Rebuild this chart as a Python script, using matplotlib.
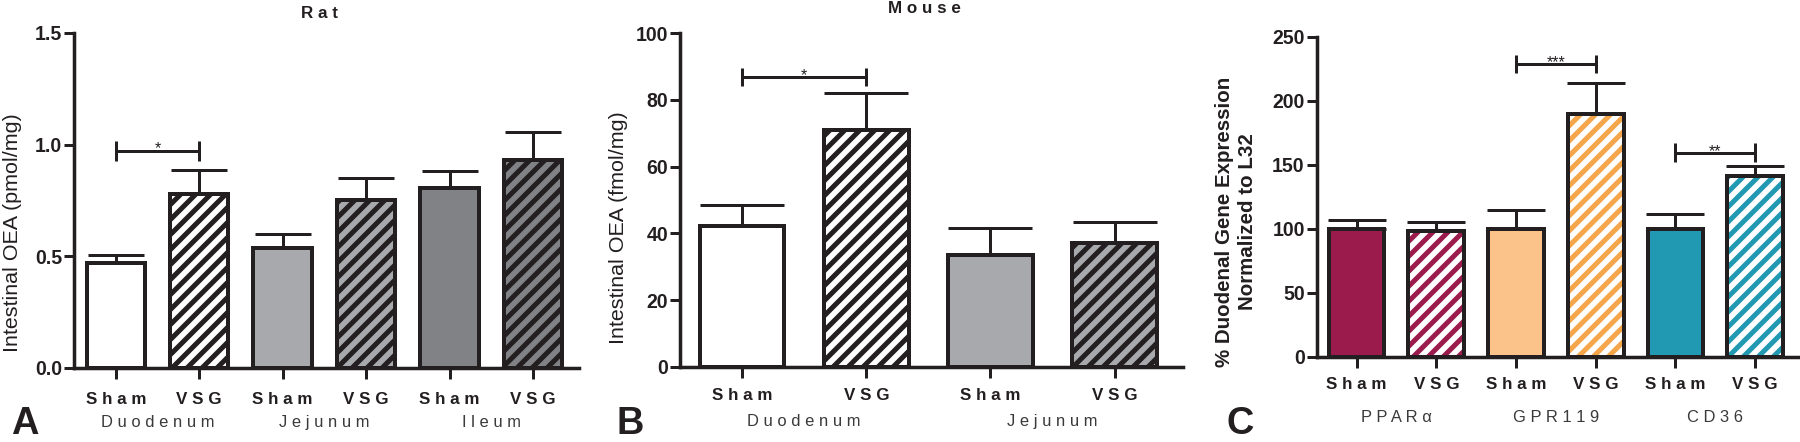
import numpy as np
import matplotlib
matplotlib.use('Agg')
import matplotlib.pyplot as plt
from matplotlib.transforms import offset_copy

DPI = 90
W, H = 1800, 442


def pt(px):
    # pixels -> points at the output dpi
    return px * 72 / DPI


plt.rcParams['font.family'] = ['Liberation Sans', 'DejaVu Sans']
plt.rcParams['hatch.linewidth'] = pt(5)

INK = '#231F20'
GREY_TXT = '#3a3a3a'

# ---- data ----
conds = ['Sham', 'VSG']

rat_groups = ['Duodenum', 'Jejunum', 'Ileum']
rat_mean = [0.47, 0.78, 0.535, 0.753, 0.806, 0.932]
rat_sem = [0.036, 0.108, 0.063, 0.095, 0.075, 0.125]
rat_face = ['white', 'white', '#A7A9AC', '#A7A9AC', '#808285', '#808285']

mouse_groups = ['Duodenum', 'Jejunum']
mouse_mean = [42.2, 71.0, 33.5, 37.0]
mouse_sem = [6.3, 11.0, 8.2, 6.5]
mouse_face = ['white', 'white', '#A7A9AC', '#A7A9AC']

gene_groups = ['PPARα', 'GPR119', 'CD36']
gene_mean = [100, 98, 100, 190, 100, 141]
gene_sem = [7, 7, 14.8, 23.6, 11.4, 8]
gene_face = ['#9C1B4D', 'white', '#FBC389', 'white', '#2299B2', 'white']
gene_hatch = [None, '#9C1B4D', None, '#F5A54A', None, '#2299B2']

# significance: (left bar, right bar, height, arm, label)
rat_sig = [(0, 1, 0.973, 0.045, '*')]
mouse_sig = [(0, 1, 86.8, 2.75, '*')]
gene_sig = [(2, 3, 228.7, 7.0, '***'), (4, 5, 159.5, 7.5, '**')]


def spaced(s):
    return ' '.join(s)


def rect_px(l, r, top, bottom):
    return [l / W, 1 - bottom / H, (r - l) / W, (bottom - top) / H]


fig = plt.figure(figsize=(W / DPI, H / DPI), dpi=DPI)


def panel(rect, means, sems, faces, hatchcols, groups, ymax, yticks, yfmt,
          width, cap_px, cond_base, group_base, sigs):
    ax = fig.add_axes(rect)
    n = len(means)
    x = np.arange(n)
    for i in range(n):
        if hatchcols[i] is not None:
            ax.bar(x[i], means[i], width, color=faces[i], edgecolor=hatchcols[i],
                   hatch='//', linewidth=0, zorder=2)
            ax.bar(x[i], means[i], width, facecolor='none', edgecolor=INK,
                   linewidth=pt(4), zorder=3)
        else:
            ax.bar(x[i], means[i], width, color=faces[i], edgecolor=INK,
                   linewidth=pt(4), zorder=3)
    ax.errorbar(x, means, yerr=[np.zeros(n), sems], fmt='none', ecolor=INK,
                elinewidth=pt(3), capsize=pt(cap_px), capthick=pt(3), zorder=1)

    for a, b, h, arm, lab in sigs:
        ax.plot([a, b], [h, h], color=INK, lw=pt(3), solid_capstyle='butt')
        ax.plot([a, a], [h - arm, h + arm], color=INK, lw=pt(3), solid_capstyle='butt')
        ax.plot([b, b], [h - arm, h + arm], color=INK, lw=pt(3), solid_capstyle='butt')
        ax.annotate(lab, xy=((a + b) / 2, h), xytext=(0, pt(1.5)),
                    textcoords='offset points', ha='center', va='center',
                    fontsize=pt(16), color=INK)

    ax.set_xlim(-0.5, n - 0.45)
    ax.set_ylim(0, ymax)
    for s in ['top', 'right']:
        ax.spines[s].set_visible(False)
    for s in ['left', 'bottom']:
        ax.spines[s].set_linewidth(pt(3.5))
        ax.spines[s].set_color(INK)
    ax.set_xticks(x, [''] * n)
    ax.tick_params(axis='x', length=pt(11), width=pt(3), color=INK)
    ax.set_yticks(yticks, [yfmt.format(v) for v in yticks])
    ax.tick_params(axis='y', length=pt(10), width=pt(3), color=INK, pad=pt(2),
                   labelsize=pt(19.5), labelcolor=INK)
    for t in ax.get_yticklabels():
        t.set_fontweight('bold')

    tr_c = offset_copy(ax.get_xaxis_transform(), fig=fig, y=-cond_base, units='dots')
    for i in range(n):
        ax.text(x[i], 0, spaced(conds[i % 2]), transform=tr_c, ha='center',
                va='baseline', fontsize=pt(17), fontweight='bold', color=INK)
    tr_g = offset_copy(ax.get_xaxis_transform(), fig=fig, y=-group_base, units='dots')
    for g, name in enumerate(groups):
        ax.text(2 * g + 0.5, 0, spaced(name), transform=tr_g, ha='center',
                va='baseline', fontsize=pt(16.5), color=GREY_TXT)
    return ax


axA = panel(rect_px(74, 579, 33, 367.7), rat_mean, rat_sem, rat_face,
            [None, INK, None, INK, None, INK], rat_groups, 1.5,
            [0, 0.5, 1.0, 1.5], '{:.1f}', 0.7, 28, 36, 59.3, rat_sig)
axB = panel(rect_px(680, 1183, 33.3, 366.7), mouse_mean, mouse_sem, mouse_face,
            [None, INK, None, INK], mouse_groups, 100,
            [0, 20, 40, 60, 80, 100], '{:d}', 0.68, 42, 33.3, 59.3, mouse_sig)
axC = panel(rect_px(1316.7, 1799, 36.7, 357), gene_mean, gene_sem, gene_face,
            gene_hatch, gene_groups, 250,
            [0, 50, 100, 150, 200, 250], '{:d}', 0.7, 29, 32, 65, gene_sig)


def ftext(xp, yp, s, **kw):
    fig.text(xp / W, 1 - yp / H, s, **kw)


# titles
ftext(319.5, 18, spaced('Rat'), ha='center', va='baseline', fontsize=pt(17),
      fontweight='bold', color=INK)
ftext(924.5, 13, spaced('Mouse'), ha='center', va='baseline', fontsize=pt(17),
      fontweight='bold', color=INK)

# y labels
ftext(12.5, 233, 'Intestinal OEA (pmol/mg)', rotation=90, ha='center', va='center',
      fontsize=pt(21.5), color=INK)
ftext(618, 228, 'Intestinal OEA (fmol/mg)', rotation=90, ha='center', va='center',
      fontsize=pt(21.5), color=INK)
ftext(1236, 222, '% Duodenal Gene Expression\nNormalized to L32', rotation=90,
      ha='center', va='center', fontsize=pt(20.5), fontweight='bold', color=INK,
      linespacing=1.25, multialignment='center')

# panel letters
for lx, lab in [(24.5, 'A'), (630, 'B'), (1240.5, 'C')]:
    ftext(lx, 441.5, lab, ha='center', va='bottom', fontsize=pt(38),
          fontweight='bold', color=INK)

fig.savefig('out.png', dpi=DPI)
